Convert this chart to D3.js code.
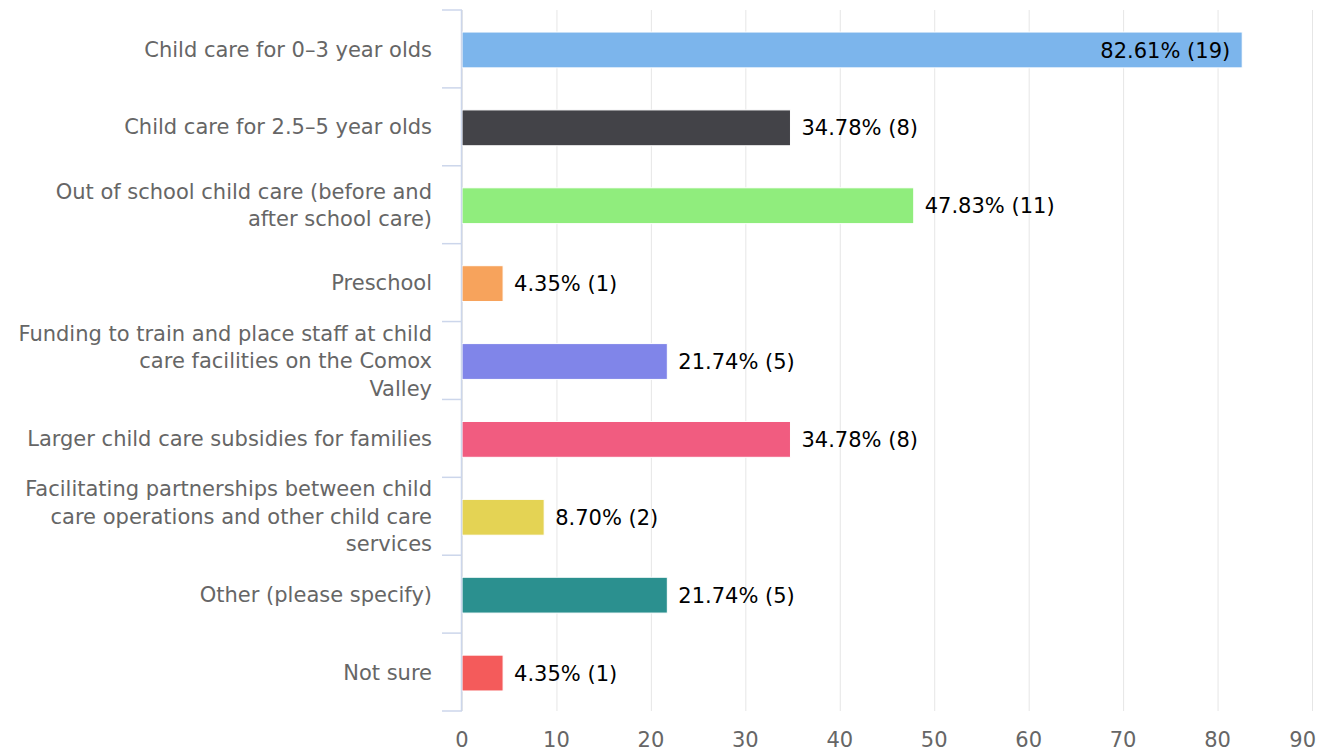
<!DOCTYPE html>
<html><head><meta charset="utf-8">
<script src="https://cdn.jsdelivr.net/npm/d3@7"></script>
<style>
html,body{margin:0;padding:0;background:#fff;}
svg{display:block;font-family:"DejaVu Sans",Verdana,sans-serif;}
</style></head>
<body>
<svg id="chart" width="1319" height="753"></svg>
<script>
// "\n" marks the line breaks seen in the reference labels
const categories = [
  "Child care for 0–3 year olds",
  "Child care for 2.5–5 year olds",
  "Out of school child care (before and\nafter school care)",
  "Preschool",
  "Funding to train and place staff at child\ncare facilities on the Comox\nValley",
  "Larger child care subsidies for families",
  "Facilitating partnerships between child\ncare operations and other child care\nservices",
  "Other (please specify)",
  "Not sure"
];
const percents = [82.61, 34.78, 47.83, 4.35, 21.74, 34.78, 8.70, 21.74, 4.35];
const counts = [19, 8, 11, 1, 5, 8, 2, 5, 1];
const colors = ["#7cb5ec","#434348","#90ed7d","#f7a35c","#8085e9","#f15c80","#e4d354","#2b908f","#f45b5b"];
const xTicks = [0,10,20,30,40,50,60,70,80,90];

(function draw() {
const svg = d3.select("#chart");
const pLeft = 462, pRight = 1312, pTop = 10, pBottom = 711;

const x = d3.scaleLinear().domain([0, 90]).range([pLeft, pRight]);
const y = d3.scaleBand().domain(categories).range([pTop, pBottom]).paddingInner(0.54).paddingOuter(0.27);
const band = d3.scaleBand().domain(categories).range([pTop, pBottom]);

// gridlines
svg.append("g").selectAll("line").data(xTicks).join("line")
  .attr("x1", d => x(d) + 0.5).attr("x2", d => x(d) + 0.5)
  .attr("y1", pTop).attr("y2", pBottom)
  .attr("stroke", "#e6e6e6").attr("stroke-width", 1);

// x tick labels
const xl = svg.append("g").selectAll("text").data(xTicks).join("text")
  .attr("x", d => x(d)).attr("y", 747)
  .attr("text-anchor", "middle")
  .attr("fill", "#666666").attr("font-size", 21)
  .text(d => d);
xl.each(function() {
  const b = this.getBBox();
  if (b.x + b.width > 1316) d3.select(this).attr("x", +d3.select(this).attr("x") - (b.x + b.width - 1316));
});

// bars
svg.append("g").selectAll("rect").data(percents).join("rect")
  .attr("x", x(0))
  .attr("y", (d, i) => y(categories[i]) + 1)
  .attr("width", d => x(d) - x(0))
  .attr("height", y.bandwidth())
  .attr("fill", (d, i) => colors[i])
  .attr("stroke", "#ffffff").attr("stroke-width", 1);

// y axis line & ticks
svg.append("line").attr("x1", pLeft - 0.5).attr("x2", pLeft - 0.5).attr("y1", pTop).attr("y2", pBottom)
  .attr("stroke", "#ccd6eb").attr("stroke-width", 1.5);
const tickYs = categories.map(c => band(c)).concat([pBottom]);
svg.append("g").selectAll("line").data(tickYs).join("line")
  .attr("x1", pLeft - 20).attr("x2", pLeft).attr("y1", d => d).attr("y2", d => d)
  .attr("stroke", "#ccd6eb").attr("stroke-width", 1.5);

// category labels
const lineH = 27.5;
const labG = svg.append("g");
categories.forEach((c, i) => {
  const t = labG.append("text").attr("font-size", 21).attr("fill", "#666666").attr("text-anchor", "end");
  const lines = c.split("\n");
  const cy = band(c) + band.bandwidth() / 2;
  lines.forEach((ln, k) => {
    t.append("tspan").attr("x", 432)
      .attr("y", cy + (k - (lines.length - 1) / 2) * lineH)
      .attr("dy", "0.36em").text(ln);
  });
});

// value labels
svg.append("g").selectAll("text").data(percents).join("text")
  .attr("x", (d, i) => i === 0 ? x(d) - 12 : x(d) + 11)
  .attr("y", (d, i) => y(categories[i]) + 1 + y.bandwidth() / 2)
  .attr("dy", "0.36em")
  .attr("text-anchor", (d, i) => i === 0 ? "end" : "start")
  .attr("font-size", 21).attr("fill", "#000")
  .text((d, i) => d.toFixed(2) + "% (" + counts[i] + ")");
})();
</script>
</body></html>
